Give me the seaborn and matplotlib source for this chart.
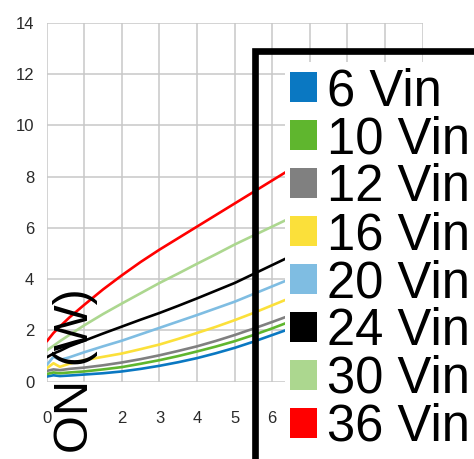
import pandas as pd
import matplotlib.pyplot as plt
import seaborn as sns
from matplotlib.patches import Patch
from matplotlib.lines import Line2D

# load current (A) sample points, shared by all series
load = [0, 0.18, 0.35, 0.6, 1, 1.5, 2, 2.5, 3, 3.5, 4, 4.5, 5, 5.5, 6, 6.5]

# power loss (W) per input voltage
p_6v = [0.20, 0.25, 0.22, 0.24, 0.28, 0.33, 0.40, 0.50, 0.62, 0.76, 0.92, 1.11, 1.32, 1.56, 1.82, 2.08]
p_10v = [0.30, 0.36, 0.33, 0.36, 0.40, 0.48, 0.57, 0.70, 0.84, 1.00, 1.18, 1.37, 1.58, 1.82, 2.08, 2.36]
p_12v = [0.42, 0.48, 0.45, 0.50, 0.55, 0.64, 0.75, 0.88, 1.03, 1.20, 1.38, 1.59, 1.82, 2.07, 2.33, 2.60]
p_16v = [0.52, 0.72, 0.58, 0.70, 0.84, 0.97, 1.10, 1.27, 1.45, 1.67, 1.90, 2.14, 2.40, 2.68, 2.98, 3.28]
p_20v = [0.65, 0.97, 0.85, 0.95, 1.15, 1.38, 1.60, 1.85, 2.10, 2.35, 2.60, 2.86, 3.12, 3.42, 3.72, 4.02]
p_24v = [0.95, 1.10, 1.20, 1.38, 1.60, 1.88, 2.15, 2.42, 2.68, 2.96, 3.25, 3.55, 3.85, 4.20, 4.55, 4.90]
p_30v = [1.22, 1.40, 1.58, 1.82, 2.20, 2.64, 3.05, 3.45, 3.85, 4.22, 4.60, 4.97, 5.35, 5.70, 6.05, 6.40]
p_36v = [1.57, 1.90, 2.15, 2.50, 3.00, 3.60, 4.15, 4.67, 5.15, 5.60, 6.05, 6.50, 6.95, 7.40, 7.85, 8.30]

series_names = ["6 Vin", "10 Vin", "12 Vin", "16 Vin", "20 Vin", "24 Vin", "30 Vin", "36 Vin"]
series_values = [p_6v, p_10v, p_12v, p_16v, p_20v, p_24v, p_30v, p_36v]
colors = ["#0a78c2", "#5fb62e", "#808080", "#fbe03a", "#7fbde2", "#000000", "#acd78f", "#ff0000"]

# labels 1 and 7-10 are hidden behind the axis title / legend in the original
x_ticks = list(range(0, 11))
x_labels = ["0", "", "2", "3", "4", "5", "6", "", "", "", ""]
y_ticks = list(range(0, 15, 2))

rows = []
for name, vals in zip(series_names, series_values):
    for x, y in zip(load, vals):
        rows.append({"load": x, "power": y, "series": name})
df = pd.DataFrame(rows)

sns.set_style("whitegrid")
plt.rcParams['font.family'] = ['Liberation Sans', 'DejaVu Sans']

fig = plt.figure(figsize=(4.74, 4.59), dpi=100)
ax = fig.add_axes([0.0985, 0.1684, 0.793, 0.782])

sns.lineplot(data=df, x="load", y="power", hue="series", hue_order=series_names,
             palette=dict(zip(series_names, colors)), linewidth=1.9, legend=False, ax=ax)

ax.set_xlim(0, 10)
ax.set_ylim(0, 14)
ax.set_xticks(x_ticks)
ax.set_xticklabels(x_labels)
ax.set_yticks(y_ticks)
ax.grid(True, color="#c8c8c8", linewidth=1.1)
for s in ax.spines.values():
    s.set_visible(False)
ax.tick_params(axis="x", length=0, pad=21, labelsize=12, labelcolor="#2a2a2a")
ax.tick_params(axis="y", length=0, pad=9, labelsize=12, labelcolor="#2a2a2a")
ax.set_xlabel("")
ax.set_ylabel("")

# oversized axis title sitting inside the plot
fig.text(76 / 474, 6 / 459, "ON (W)", rotation=90, ha="center", va="bottom",
         fontsize=35, color="black")

handles = [Patch(facecolor=c, edgecolor="none") for c in colors]
leg = fig.legend(handles, series_names, loc="upper left",
                 bbox_to_anchor=(285 / 474, 1 - 62 / 459), bbox_transform=fig.transFigure,
                 fontsize=36.5, frameon=True, fancybox=False, borderpad=0.1,
                 handlelength=0.53, handleheight=0.53, handletextpad=0.2,
                 labelspacing=-0.02, borderaxespad=0, labelcolor="black")
leg.get_frame().set_facecolor("white")
leg.get_frame().set_edgecolor("none")
leg.get_frame().set_alpha(1)

# thick black corner drawn round the legend
fig.add_artist(Line2D([255 / 474, 255 / 474, 1.02], [-0.02, 1 - 51 / 459, 1 - 51 / 459],
                      transform=fig.transFigure, color="black", linewidth=4.8,
                      solid_joinstyle="miter", zorder=10))

fig.savefig("out.png", dpi=100)
